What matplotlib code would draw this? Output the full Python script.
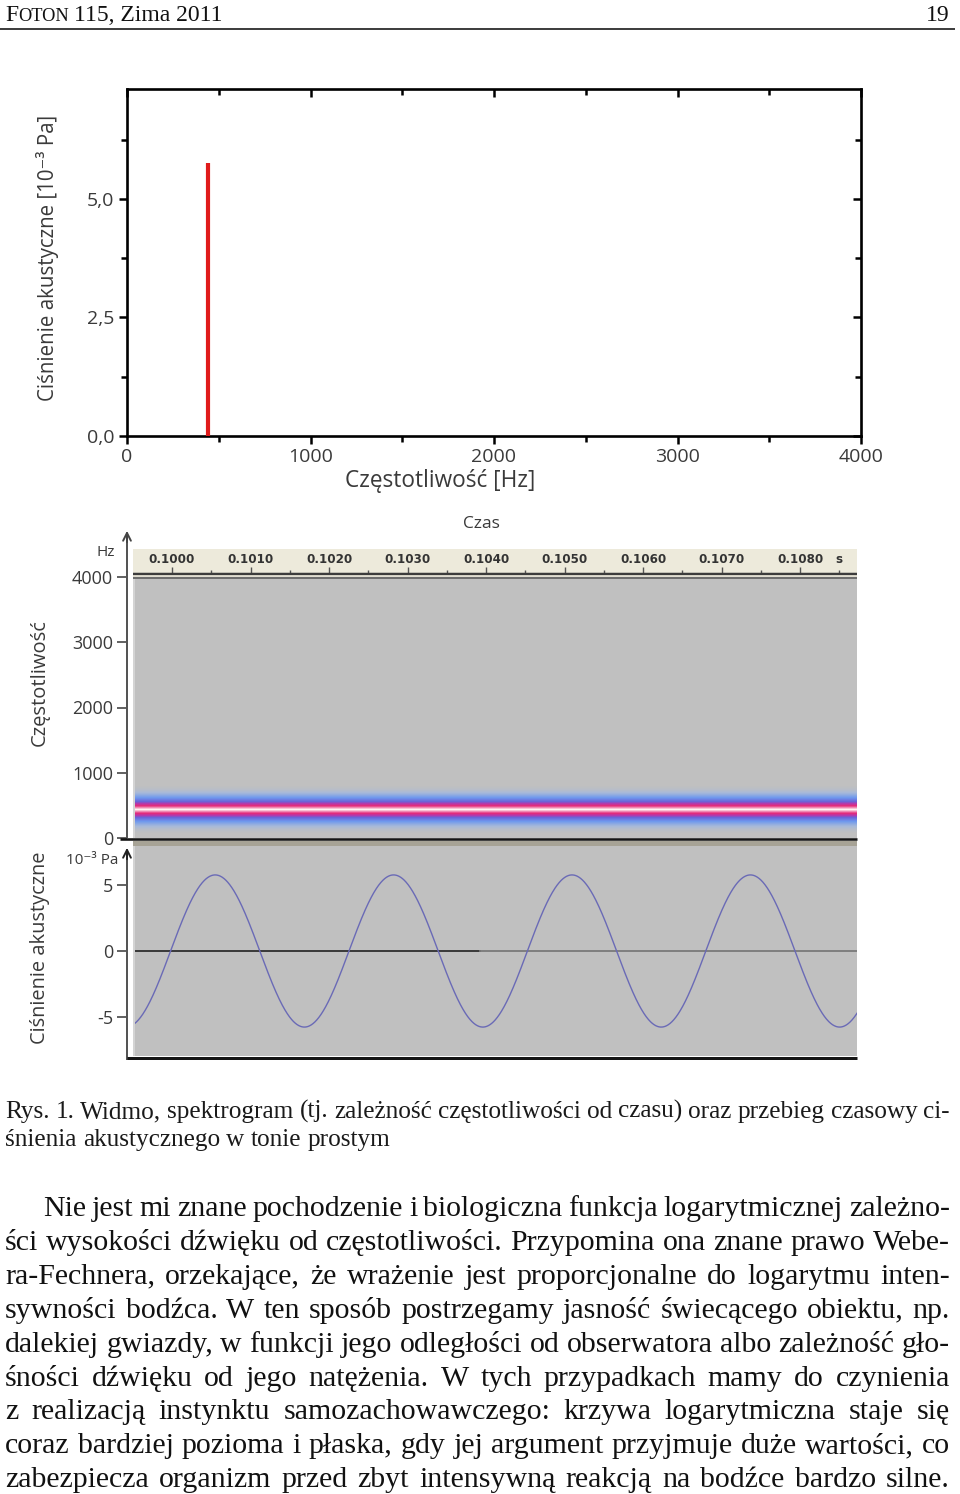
import numpy as np
import matplotlib
matplotlib.use('Agg')
import matplotlib.pyplot as plt
from matplotlib.transforms import Affine2D
from matplotlib.colors import LinearSegmentedColormap
from matplotlib.lines import Line2D
from matplotlib.patches import Rectangle, FancyArrowPatch

W, H = 960, 1494

# ---------------- data ----------------
spectrum_freq_hz = [440]
spectrum_amp_mpa = [5.76]
spectrum_xticks = [0, 1000, 2000, 3000, 4000]
spectrum_xminor = [500, 1500, 2500, 3500]
spectrum_yticks = [0.0, 2.5, 5.0]
spectrum_yticklabels = ['0,0', '2,5', '5,0']
spectrum_yminor = [1.25, 3.75, 6.25]

time_ticks = [0.1000, 0.1010, 0.1020, 0.1030, 0.1040, 0.1050, 0.1060, 0.1070, 0.1080]
time_ticklabels = ['0.1000', '0.1010', '0.1020', '0.1030', '0.1040',
                   '0.1050', '0.1060', '0.1070', '0.1080']
freq_ticks = [0, 1000, 2000, 3000, 4000]
freq_ticklabels = ['0', '1000', '2000', '3000', '4000']
pressure_ticks = [-5, 0, 5]
pressure_ticklabels = ['-5', '0', '5']

# spectrogram band profile around the tone (offset in Hz, relative level)
band_offsets_hz = [-360, -300, -240, -180, -120, -60, 0, 60, 120, 180, 240, 300, 360]
band_levels = [0.0, 0.06, 0.20, 0.40, 0.60, 0.85, 1.0, 0.85, 0.60, 0.40, 0.20, 0.06, 0.0]

# pure tone (waveform)
tone_freq_hz = 440
tone_amp_mpa = 5.76
tone_peak_time_s = 0.100550

header_left = ['F', 'OTON', '115, Zima 2011']
header_page = '19'

caption_lines = [
    'Rys. 1. Widmo, spektrogram (tj. zależność częstotliwości od czasu) oraz przebieg czasowy ci-',
    'śnienia akustycznego w tonie prostym',
]
body_lines = [
    'Nie jest mi znane pochodzenie i biologiczna funkcja logarytmicznej zależno-',
    'ści wysokości dźwięku od częstotliwości. Przypomina ona znane prawo Webe-',
    'ra-Fechnera, orzekające, że wrażenie jest proporcjonalne do logarytmu inten-',
    'sywności bodźca. W ten sposób postrzegamy jasność świecącego obiektu, np.',
    'dalekiej gwiazdy, w funkcji jego odległości od obserwatora albo zależność gło-',
    'śności dźwięku od jego natężenia. W tych przypadkach mamy do czynienia',
    'z realizacją instynktu samozachowawczego: krzywa logarytmiczna staje się',
    'coraz bardziej pozioma i płaska, gdy jej argument przyjmuje duże wartości, co',
    'zabezpiecza organizm przed zbyt intensywną reakcją na bodźce bardzo silne.',
]

# ---------------- helpers ----------------
fig = plt.figure(figsize=(W / 100, H / 100), dpi=100)
fig.patch.set_facecolor('white')
pix = Affine2D().scale(1.0 / W, -1.0 / H).translate(0, 1) + fig.transFigure


def rect(x0, y0, x1, y1):
    return [x0 / W, 1 - y1 / H, (x1 - x0) / W, (y1 - y0) / H]


def hline(x0, x1, y, lw_px, color, z=5):
    fig.add_artist(Line2D([x0, x1], [y, y], transform=pix, lw=lw_px * 0.72,
                          color=color, zorder=z, solid_capstyle='butt'))


def vline(x, y0, y1, lw_px, color, z=5):
    fig.add_artist(Line2D([x, x], [y0, y1], transform=pix, lw=lw_px * 0.72,
                          color=color, zorder=z, solid_capstyle='butt'))


SANS = ['Open Sans', 'DejaVu Sans']
SERIF = ['Liberation Serif', 'DejaVu Serif']
LBL = '#3a3a3a'

# ---------------- header ----------------
renderer = fig.canvas.get_renderer()
hx = 5
t = fig.text(hx, 21, header_left[0], transform=pix, fontsize=17, family=SERIF,
             va='baseline', ha='left', color='#111')
hx += t.get_window_extent(renderer).width
t = fig.text(hx, 21, header_left[1], transform=pix, fontsize=13.2, family=SERIF,
             va='baseline', ha='left', color='#111')
hx += t.get_window_extent(renderer).width + 5
fig.text(hx, 21, header_left[2], transform=pix, fontsize=17, family=SERIF,
         va='baseline', ha='left', color='#111')
fig.text(950, 21, header_page, transform=pix, fontsize=17, family=SERIF,
         va='baseline', ha='right', color='#111')
hline(0, 955, 28.5, 1.6, '#111')

# ---------------- spectrum (top) ----------------
ax1 = fig.add_axes(rect(127, 89, 861, 436))
ax1.vlines(spectrum_freq_hz, 0, spectrum_amp_mpa, color='#e01b1b', lw=3.0, zorder=3)
ax1.set_xlim(0, 4000)
ax1.set_ylim(0, 7.32)
for s in ax1.spines.values():
    s.set_linewidth(1.9)
ax1.set_xticks(spectrum_xticks)
ax1.set_xticks(spectrum_xminor, minor=True)
ax1.set_yticks(spectrum_yticks)
ax1.set_yticklabels(spectrum_yticklabels)
ax1.set_yticks(spectrum_yminor, minor=True)
ax1.tick_params(which='both', direction='out', width=1.8, labelsize=14,
                labelcolor=LBL, pad=3)
ax1.tick_params(which='major', length=6)
ax1.tick_params(which='minor', length=4)
for lab in ax1.get_xticklabels() + ax1.get_yticklabels():
    lab.set_family(SANS)
sx = ax1.secondary_xaxis('top')
sx.set_xticks(spectrum_xticks)
sx.set_xticks(spectrum_xminor, minor=True)
sx.tick_params(which='both', direction='in', width=1.8, labeltop=False)
sx.tick_params(which='major', length=6)
sx.tick_params(which='minor', length=4)
sy = ax1.secondary_yaxis('right')
sy.set_yticks(spectrum_yticks)
sy.set_yticks(spectrum_yminor, minor=True)
sy.tick_params(which='both', direction='in', width=1.8, labelright=False)
sy.tick_params(which='major', length=6)
sy.tick_params(which='minor', length=4)
fig.text(440, 481, 'Częstotliwość [Hz]', transform=pix, fontsize=16.3, family=SANS,
         ha='center', va='center', color=LBL)
fig.text(48, 258, 'Ciśnienie akustyczne [10⁻³ Pa]', transform=pix, fontsize=14.8,
         family=SANS, ha='center', va='center', rotation=90, color=LBL)

# ---------------- spectrogram ----------------
t0, t1 = 0.099503, 0.108726
fig.text(481, 524, 'Czas', transform=pix, fontsize=12.5, family=SANS,
         ha='center', va='center', color=LBL)

axh = fig.add_axes(rect(133, 549, 857, 573))
axh.set_facecolor('#EDEADB')
axh.set_xlim(t0, t1)
axh.set_ylim(0, 1)
for s in axh.spines.values():
    s.set_visible(False)
axh.set_yticks([])
axh.set_xticks(time_ticks)
axh.set_xticks([v + 0.0005 for v in time_ticks], minor=True)
axh.tick_params(which='both', direction='in', labelbottom=False, color='#555', width=1)
axh.tick_params(which='major', length=4)
axh.tick_params(which='minor', length=2)
for v, lab in zip(time_ticks, time_ticklabels):
    axh.text(v, 0.58, lab, fontsize=8.6, fontweight='bold', family='DejaVu Sans',
             ha='center', va='center', color='#333')
axh.text(0.975, 0.55, 's', transform=axh.transAxes, fontsize=8.6, fontweight='bold',
         family='DejaVu Sans', ha='center', va='center', color='#333')

axs = fig.add_axes(rect(133, 577, 857, 838))
axs.set_facecolor('#C0C0C0')
for s in axs.spines.values():
    s.set_visible(False)
axs.set_xticks([])
axs.set_yticks([])
cmap = LinearSegmentedColormap.from_list('band', [
    (0.00, '#C0C0C0'),
    (0.15, '#A9BAD8'),
    (0.40, '#6E98EE'),
    (0.60, '#6A62D8'),
    (0.72, '#B23AAE'),
    (0.86, '#E42A7A'),
    (1.00, '#FFF4F2'),
])
band = np.array(band_levels)[:, None] * np.ones((1, 2))
step = band_offsets_hz[1] - band_offsets_hz[0]
axs.imshow(band, origin='lower', aspect='auto', cmap=cmap, vmin=0, vmax=1,
           interpolation='bilinear', interpolation_stage='data',
           extent=(t0, t1, tone_freq_hz + band_offsets_hz[0] - step / 2,
                   tone_freq_hz + band_offsets_hz[-1] + step / 2))
axs.set_xlim(t0, t1)
axs.set_ylim(0, 4000)

axf = fig.add_axes(rect(127, 577, 857, 838))
axf.patch.set_visible(False)
for s in axf.spines.values():
    s.set_visible(False)
axf.set_ylim(0, 4000)
axf.set_xticks([])
axf.set_yticks(freq_ticks)
axf.set_yticklabels(freq_ticklabels)
axf.tick_params(axis='y', length=7, width=1.3, color='#555', labelsize=13,
                labelcolor=LBL, pad=3)
for lab in axf.get_yticklabels():
    lab.set_family(SANS)

hline(133, 857, 573.5, 2.5, '#3c3c3c')
hline(133, 857, 575.5, 1.5, '#d6d2c2')
hline(133, 857, 577.5, 1.6, '#5a5a5a')
vline(134, 579, 838, 2, '#D4D4D4', z=4)

vline(127, 838, 536, 2, '#555')
fig.add_artist(FancyArrowPatch((127, 545), (127, 528), transform=pix, arrowstyle='->',
                               mutation_scale=14, lw=1.4, color='#444', zorder=6))
fig.text(106, 553, 'Hz', transform=pix, fontsize=11, family=SANS, ha='center',
         va='center', color=LBL)
fig.text(40, 683, 'Częstotliwość', transform=pix, fontsize=14.5, family=SANS,
         ha='center', va='center', rotation=90, color=LBL)

hline(120, 857, 838.8, 2.6, '#151515', z=6)
fig.add_artist(Rectangle((133, 840.5), 724, 5, transform=pix, color='#A7A396', zorder=5, lw=0))

# ---------------- waveform ----------------
axw = fig.add_axes(rect(133, 846, 857, 1056))
axw.set_facecolor('#C0C0C0')
axw.set_xlim(t0, t1)
axw.set_ylim(-7.95, 7.95)
for s in axw.spines.values():
    s.set_visible(False)
axw.set_xticks([])
axw.set_yticks([])
tt = np.linspace(t0, t1, 2000)
axw.plot(tt, tone_amp_mpa * np.cos(2 * np.pi * tone_freq_hz * (tt - tone_peak_time_s)),
         color='#6a6ab6', lw=1.0, zorder=3)
axw.axhline(0, xmin=0, xmax=0.479, color='#2e2e2e', lw=1.3, zorder=2)
axw.axhline(0, xmin=0.479, xmax=1, color='#7a7a7a', lw=1.3, zorder=2)

axp = fig.add_axes(rect(127, 846, 857, 1056))
axp.patch.set_visible(False)
for s in axp.spines.values():
    s.set_visible(False)
axp.set_ylim(-7.95, 7.95)
axp.set_xticks([])
axp.set_yticks(pressure_ticks)
axp.set_yticklabels(pressure_ticklabels)
axp.tick_params(axis='y', length=7, width=1.3, color='#555', labelsize=13,
                labelcolor=LBL, pad=3)
for lab in axp.get_yticklabels():
    lab.set_family(SANS)

vline(134, 846, 1056, 2, '#D4D4D4', z=4)
vline(127, 1060, 852, 2, '#555')
fig.add_artist(FancyArrowPatch((127, 862), (127, 845), transform=pix, arrowstyle='->',
                               mutation_scale=14, lw=1.4, color='#222', zorder=6))
fig.text(92, 861, '10⁻³ Pa', transform=pix, fontsize=11, family=SANS, ha='center',
         va='center', color=LBL)
fig.text(40, 948, 'Ciśnienie akustyczne', transform=pix, fontsize=14.4, family=SANS,
         ha='center', va='center', rotation=90, color=LBL)
hline(127, 857, 1057.8, 3, '#151515', z=6)

# ---------------- caption and body text (justified) ----------------


def measure(words, size):
    ws = []
    for w in words:
        tx = fig.text(0, 0, w, transform=pix, fontsize=size, family=SERIF)
        ws.append(tx.get_window_extent(renderer).width)
        tx.remove()
    return ws


def fit_size(lines, starts, x1, base):
    scale = 1.0
    for line, x0 in zip(lines, starts):
        words = line.split(' ')
        ws = measure(words, base)
        space = 0.2 * base * 100 / 72
        need = sum(ws) + space * (len(words) - 1)
        scale = min(scale, (x1 - x0) / need)
    return base * scale


def put_line(line, x0, x1, yb, size, justify, color='#111'):
    words = line.split(' ')
    ws = measure(words, size)
    if justify and len(words) > 1:
        gap = (x1 - x0 - sum(ws)) / (len(words) - 1)
    else:
        gap = 0.25 * size * 100 / 72
    x = x0
    for w, wd in zip(words, ws):
        fig.text(x, yb, w, transform=pix, fontsize=size, family=SERIF,
                 va='baseline', ha='left', color=color)
        x += wd + gap


cap_size = fit_size(caption_lines[:1], [5], 950, 18.2)
put_line(caption_lines[0], 5, 950, 1118, cap_size, True, '#1a1a1a')
put_line(caption_lines[1], 5, 950, 1146, cap_size, False, '#1a1a1a')

body_starts = [43] + [5] * (len(body_lines) - 1)
body_size = fit_size(body_lines, body_starts, 950, 22)
for i, (line, x0) in enumerate(zip(body_lines, body_starts)):
    put_line(line, x0, 950, 1216 + i * 33.9, body_size, True)

fig.savefig('out.png', dpi=100, facecolor='white')
